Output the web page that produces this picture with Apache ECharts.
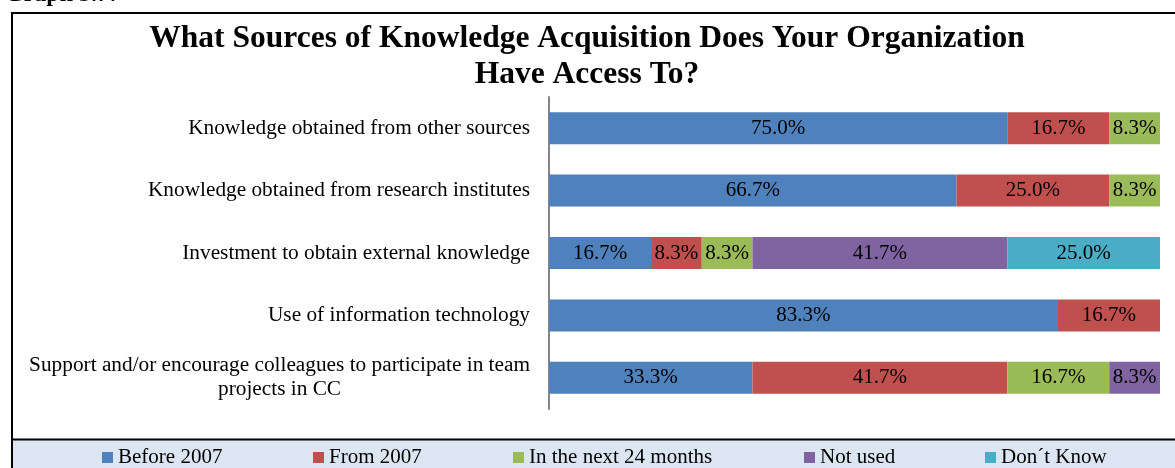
<!DOCTYPE html>
<html lang="en">
<head>
<meta charset="UTF-8">
<title></title>
<style>
    html, body { margin: 0; padding: 0; background: #fff; }
    #chart { width: 1175px; height: 468px; }
</style>
</head>
<body>
<div id="chart"></div>
<script src="https://cdn.jsdelivr.net/npm/echarts@6/dist/echarts.min.js"></script>
<script>
    var categories = [
        'Knowledge obtained from other sources',
        'Knowledge obtained from research institutes',
        'Investment to obtain external knowledge',
        'Use of information technology',
        'Support and/or encourage colleagues to participate in team\nprojects in CC'
    ];
    var seriesNames = ['Before 2007', 'From 2007', 'In the next 24 months', 'Not used', 'Don\u00b4t Know'];
    var before2007 = [75.0, 66.7, 16.7, 83.3, 33.3];
    var from2007 = [16.7, 25.0, 8.3, 16.7, 41.7];
    var next24 = [8.3, 8.3, 8.3, 0, 16.7];
    var notUsed = [0, 0, 41.7, 0, 8.3];
    var dontKnow = [0, 0, 25.0, 0, 0];

    var colors = ['#4f81bd', '#c0504d', '#9bbb59', '#8064a2', '#4bacc6'];
    var legendLefts = [102, 313, 513, 804, 985];
    var font = '"Liberation Serif", "Times New Roman", serif';

    var myChart = echarts.init(document.getElementById('chart'));

    function makeSeries(name, data, idx) {
        return {
            name: name,
            type: 'bar',
            stack: 'total',
            barWidth: 32,
            data: data.map(function (v) { return v === 0 ? null : v; }),
            itemStyle: { color: colors[idx] },
            label: {
                show: true,
                position: 'inside',
                color: '#000',
                fontFamily: font,
                fontSize: 21,
                formatter: function (p) { return p.value.toFixed(1) + '%'; }
            },
            emphasis: { disabled: true }
        };
    }

    var allData = [before2007, from2007, next24, notUsed, dontKnow];

    var option = {
        animation: false,
        textStyle: { fontFamily: font },
        title: [{
            text: 'What Sources of Knowledge Acquisition Does Your Organization\nHave Access To?',
            left: 582,
            top: 16,
            textAlign: 'center',
            textStyle: { fontFamily: font, fontSize: 31.5, fontWeight: 'bold', color: '#000', lineHeight: 36 }
        }, {
            text: 'Graph 3.7:',
            left: 0,
            top: -22,
            textStyle: { fontFamily: font, fontSize: 24, fontWeight: 'bold', color: '#000' }
        }],
        graphic: [
            { type: 'rect', shape: { x: 12, y: 440, width: 1170, height: 40 }, style: { fill: '#dce6f2' }, silent: true },
            { type: 'polyline', shape: { points: [[1180, 13], [12, 13], [12, 470]] }, style: { stroke: '#000', lineWidth: 2, fill: null }, silent: true },
            { type: 'line', shape: { x1: 12, y1: 439.5, x2: 1180, y2: 439.5 }, style: { stroke: '#000', lineWidth: 2 }, silent: true }
        ],
        legend: seriesNames.map(function (n, i) {
            return {
                data: [n],
                left: legendLefts[i],
                top: 447,
                padding: 0,
                itemWidth: 11,
                itemHeight: 11,
                itemGap: 4,
                icon: 'rect',
                selectedMode: false,
                textStyle: { fontFamily: font, fontSize: 21, color: '#000', padding: [0, 0, 0, 0] }
            };
        }),
        grid: { left: 549, right: 15, top: 97, bottom: 59 },
        xAxis: {
            type: 'value',
            min: 0,
            max: 100,
            show: false
        },
        yAxis: {
            type: 'category',
            data: categories,
            inverse: true,
            axisLine: { lineStyle: { color: '#868686', width: 2 } },
            axisTick: { show: false },
            axisLabel: {
                margin: 19,
                color: '#000',
                fontFamily: font,
                fontSize: 21.3,
                lineHeight: 24,
                formatter: function (v) {
                    if (v.indexOf('\n') < 0) return v;
                    return v.split('\n').map(function (s) { return '{c|' + s + '}'; }).join('\n');
                },
                rich: {
                    c: { align: 'center', fontFamily: font, fontSize: 21.3, color: '#000', lineHeight: 24 }
                }
            }
        },
        series: allData.map(function (d, i) { return makeSeries(seriesNames[i], d, i); })
    };

    myChart.setOption(option);
</script>
</body>
</html>
